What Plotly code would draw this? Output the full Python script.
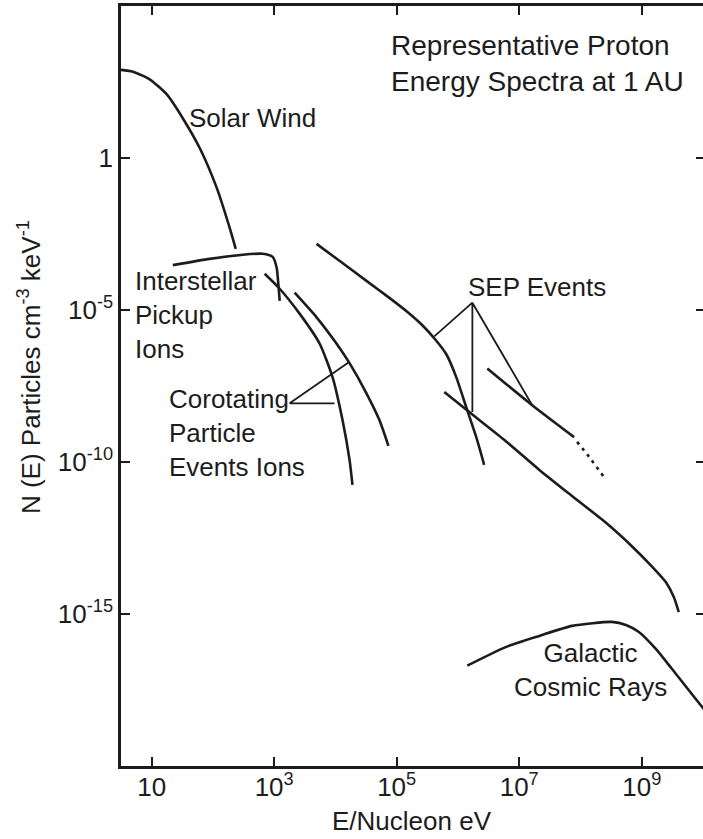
import plotly.graph_objects as go

# ---------------- data ----------------
sw_E = [3.16, 4.95, 9.4, 17.7, 32.4, 61.2, 116, 188, 236]
sw_N = [794, 692, 380, 123, 20, 2.09, 0.102, 5.0e-3, 1.02e-3]

pui_E = [22.2, 89, 307, 650, 946, 1099, 1183, 1230]
pui_N = [3.0e-4, 4.8e-4, 6.6e-4, 7.1e-4, 5.6e-4, 2.45e-4, 5.4e-5, 2.0e-5]

cirA_E = [700, 1230, 2600, 5510, 8970, 13060, 17000, 18970]
cirA_N = [1.55e-4, 5.0e-5, 7.6e-6, 7.9e-7, 6.2e-8, 2.4e-9, 1.17e-10, 1.78e-11]

cirB_E = [2160, 4920, 10400, 17000, 32100, 52200, 73300]
cirB_N = [3.7e-5, 5.75e-6, 7.9e-7, 1.78e-7, 1.82e-8, 2.4e-9, 3.4e-10]

sep1_E = [4920, 12560, 32100, 76000, 1.5e5, 2.6e5, 4.3e5, 6.46e5, 9.38e5, 1.36e6, 1.99e6, 2.68e6]
sep1_N = [1.5e-3, 3.7e-4, 9.1e-5, 2.5e-5, 8.6e-6, 3.2e-6, 1.05e-6, 3.5e-7, 6.2e-8, 6.5e-9, 6.6e-10, 8.1e-11]

sep2_E = [5.98e5, 1.53e6, 5.68e6, 2.11e7, 7.28e7, 2.61e8, 6.9e8, 1.46e9, 2.47e9, 3.34e9, 4.02e9]
sep2_N = [2.0e-8, 4.4e-9, 5.4e-10, 5.6e-11, 7.6e-12, 1.0e-12, 1.7e-13, 3.7e-14, 1.12e-14, 3.6e-15, 1.15e-15]

sep3_E = [3.01e6, 1.63e7, 7.87e7]
sep3_N = [1.2e-7, 7.4e-9, 6.6e-10]
sep3x_E = [8.81e7, 1.38e8, 2.42e8]
sep3x_N = [4.6e-10, 1.48e-10, 3.2e-11]

gcr_E = [1.42e6, 6.14e6, 2.12e7, 7.29e7, 3.27e8, 5.53e8, 8.99e8, 1.70e9, 3.10e9, 9.55e9, 1.51e10]
gcr_N = [2.0e-17, 8.3e-17, 1.9e-16, 4.07e-16, 5.5e-16, 4.37e-16, 2.57e-16, 7.1e-17, 1.58e-17, 9.1e-19, 3.2e-19]

# leader lines
cir_lead_E = [17000, 1790, 9660]
cir_lead_N = [2.0e-7, 8.5e-9, 8.5e-9]
sep_lead_E = [4.11e5, 1.72e6, 1.72e6, 1.72e6, 1.63e7]
sep_lead_N = [1.35e-6, 1.74e-5, 4.4e-9, 1.74e-5, 7.4e-9]

x_tickvals = [10, 1e3, 1e5, 1e7, 1e9]
x_ticktext = ["10", "10<sup>3</sup>", "10<sup>5</sup>", "10<sup>7</sup>", "10<sup>9</sup>"]
y_tickvals = [1, 1e-5, 1e-10, 1e-15]
y_ticktext = ["1", "10<sup>-5</sup>", "10<sup>-10</sup>", "10<sup>-15</sup>"]

# ---------------- figure ----------------
INK = "#1c1c1c"
FONT = "Liberation Sans, Arial, Helvetica, sans-serif"

fig = go.Figure()

def curve(E, N, width=2.6, dash=None, smooth=True):
    fig.add_trace(go.Scatter(
        x=E, y=N, mode="lines",
        line=dict(color=INK, width=width, dash=dash,
                  shape="spline" if smooth else "linear", smoothing=0.6),
        showlegend=False, hoverinfo="skip"))

curve(sw_E, sw_N)
curve(pui_E, pui_N)
curve(cirA_E, cirA_N)
curve(cirB_E, cirB_N)
curve(sep1_E, sep1_N)
curve(sep2_E, sep2_N)
curve(sep3_E, sep3_N)
curve(sep3x_E, sep3x_N, dash="3px,5px")
curve(gcr_E, gcr_N)
curve(cir_lead_E, cir_lead_N, width=1.8, smooth=False)
curve(sep_lead_E, sep_lead_N, width=1.8, smooth=False)

# phantom trace for right-side tick axis
fig.add_trace(go.Scatter(x=[None], y=[None], yaxis="y2", showlegend=False, hoverinfo="skip"))

ann = []
def label(text, x, y, xanchor="left", align="left", size=26):
    ann.append(dict(text=text, x=x, y=y, xref="x", yref="y", showarrow=False,
                    xanchor=xanchor, yanchor="middle", align=align,
                    font=dict(size=size, color=INK, family=FONT)))

label("Representative Proton<br>Energy Spectra at 1 AU", 4.881, 3.10, size=28)
label("Solar Wind", 1.575, 1.30)
label("Interstellar<br>Pickup<br>Ions", 0.695, -5.18)
label("Corotating<br>Particle<br>Events Ions", 1.249, -9.06)
label("SEP Events", 6.135, -4.23)
label("Galactic<br>Cosmic Rays", 8.17, -16.85, xanchor="center", align="center")

ann.append(dict(text="N (E) Particles cm<sup>-3</sup> keV<sup>-1</sup>", textangle=-90,
                x=-0.158, y=0.525, xref="paper", yref="paper", showarrow=False,
                xanchor="center", yanchor="middle",
                font=dict(size=26, color=INK, family=FONT)))
ann.append(dict(text="E/Nucleon eV", x=0.5, y=-0.0724, xref="paper", yref="paper",
                showarrow=False, xanchor="center", yanchor="middle",
                font=dict(size=26, color=INK, family=FONT)))

fig.update_layout(
    width=703, height=839,
    margin=dict(l=121, r=0, t=6, b=73),
    paper_bgcolor="white", plot_bgcolor="white",
    font=dict(family=FONT, color=INK, size=26),
    annotations=ann,
    xaxis=dict(type="log", range=[0.5, 10], tickvals=x_tickvals, ticktext=x_ticktext,
               ticks="inside", ticklen=9, tickwidth=2, tickcolor=INK,
               ticklabelstandoff=-4,
               showline=True, linewidth=2.5, linecolor=INK, mirror="ticks",
               showgrid=False, zeroline=False, tickfont=dict(size=26)),
    yaxis=dict(type="log", range=[-20, 5], tickvals=y_tickvals, ticktext=y_ticktext,
               ticks="inside", ticklen=9, tickwidth=2, tickcolor=INK,
               showline=True, linewidth=2.5, linecolor=INK,
               showgrid=False, zeroline=False, tickfont=dict(size=26)),
    yaxis2=dict(type="log", range=[-20, 5], tickvals=y_tickvals, overlaying="y",
                side="right", anchor="x", ticks="inside", ticklen=7, tickwidth=2,
                tickcolor=INK, showline=False, showticklabels=False,
                showgrid=False, zeroline=False),
)

fig.write_html("out.html")
